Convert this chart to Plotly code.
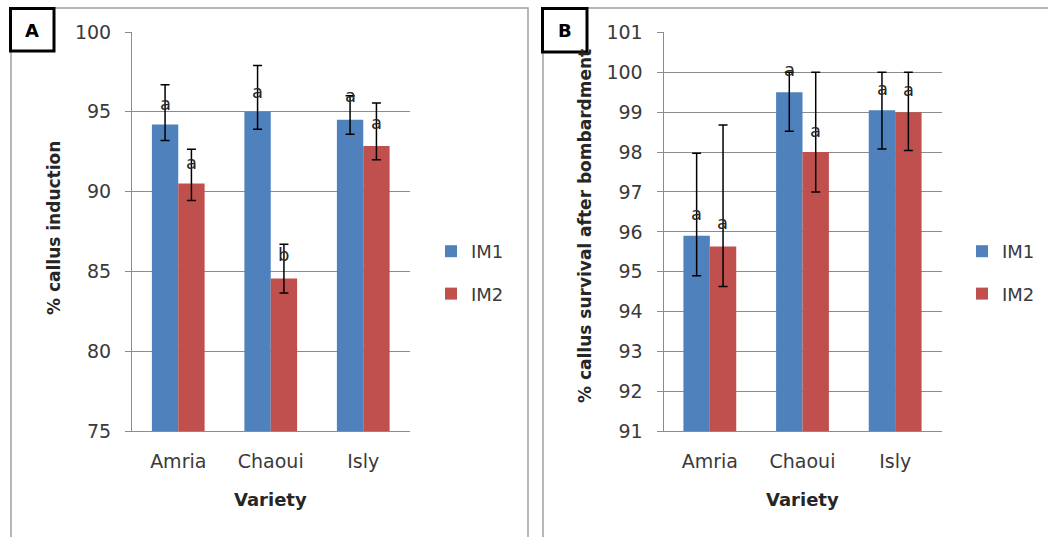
import plotly.graph_objects as go

W, H = 1048, 537

varieties = ["Amria", "Chaoui", "Isly"]
series_names = ["IM1", "IM2"]

# Panel A: % callus induction
a_im1 = [94.2, 95.0, 94.5]
a_im1_plus = [2.5, 2.9, 1.5]
a_im1_minus = [1.0, 1.1, 0.9]
a_im2 = [90.5, 84.55, 92.85]
a_im2_plus = [2.15, 2.15, 2.7]
a_im2_minus = [1.05, 0.9, 0.85]
a_im1_letters = ["a", "a", "a"]
a_im1_letter_y = [95.5, 96.25, 96.0]
a_im2_letters = ["a", "b", "a"]
a_im2_letter_y = [91.8, 86.05, 94.3]

# Panel B: % callus survival after bombardment
b_im1 = [95.9, 99.5, 99.05]
b_im1_plus = [2.07, 0.5, 0.95]
b_im1_minus = [1.0, 0.98, 0.97]
b_im2 = [95.63, 98.0, 99.0]
b_im2_plus = [3.05, 2.0, 1.0]
b_im2_minus = [1.0, 1.0, 0.96]
b_im1_letters = ["a", "a", "a"]
b_im1_letter_y = [96.45, 100.07, 99.6]
b_im2_letters = ["a", "a", "a"]
b_im2_letter_y = [96.23, 98.55, 99.57]

a_yticks = [75, 80, 85, 90, 95, 100]
b_yticks = [91, 92, 93, 94, 95, 96, 97, 98, 99, 100, 101]

BLUE = "#4F81BD"
RED = "#C0504D"
GRID = "#8c8c8c"
FONT = "DejaVu Sans"


def px(x):
    return x / W


def py(y):
    return 1 - y / H


fig = go.Figure()


def add_bar(name, xa, ya, vals, plus, minus, color, legend, group):
    fig.add_trace(go.Bar(
        x=varieties, y=vals, name=name, marker_color=color,
        marker_line_width=0,
        xaxis=xa, yaxis=ya, legend=legend, legendgroup=group,
        error_y=dict(type="data", symmetric=False, array=plus, arrayminus=minus,
                     color="black", thickness=1.5, width=4.5),
    ))


add_bar("IM1", "x", "y", a_im1, a_im1_plus, a_im1_minus, BLUE, "legend", "g1")
add_bar("IM2", "x", "y", a_im2, a_im2_plus, a_im2_minus, RED, "legend", "g2")
add_bar("IM1", "x2", "y2", b_im1, b_im1_plus, b_im1_minus, BLUE, "legend2", "h1")
add_bar("IM2", "x2", "y2", b_im2, b_im2_plus, b_im2_minus, RED, "legend2", "h2")

annotations = []
for xr, yr, letters, ys, shift in [
    ("x", "y", a_im1_letters, a_im1_letter_y, -13),
    ("x", "y", a_im2_letters, a_im2_letter_y, 13),
    ("x2", "y2", b_im1_letters, b_im1_letter_y, -13),
    ("x2", "y2", b_im2_letters, b_im2_letter_y, 13),
]:
    for v, lt, yv in zip(varieties, letters, ys):
        annotations.append(dict(x=v, y=yv, xref=xr, yref=yr, text=lt, showarrow=False,
                                xshift=shift, yanchor="middle", xanchor="center",
                                font=dict(family=FONT, size=18, color="#262626")))

title_font = dict(family=FONT, size=17, color="#262626")
annotations += [
    dict(x=px(54), y=py(228), xref="paper", yref="paper", text="<b>% callus induction</b>",
         textangle=-90, showarrow=False, font=title_font, xanchor="center", yanchor="middle"),
    dict(x=px(585), y=py(226), xref="paper", yref="paper",
         text="<b>% callus survival after bombardment</b>",
         textangle=-90, showarrow=False, font=title_font, xanchor="center", yanchor="middle"),
    dict(x=px(270), y=py(499), xref="paper", yref="paper", text="<b>Variety</b>",
         showarrow=False, font=dict(family=FONT, size=18, color="#262626"),
         xanchor="center", yanchor="middle"),
    dict(x=px(802), y=py(499), xref="paper", yref="paper", text="<b>Variety</b>",
         showarrow=False, font=dict(family=FONT, size=18, color="#262626"),
         xanchor="center", yanchor="middle"),
    dict(x=px(32), y=py(30), xref="paper", yref="paper", text="<b>A</b>",
         showarrow=False, font=dict(family=FONT, size=18, color="black"),
         xanchor="center", yanchor="middle"),
    dict(x=px(564.5), y=py(30), xref="paper", yref="paper", text="<b>B</b>",
         showarrow=False, font=dict(family=FONT, size=18, color="black"),
         xanchor="center", yanchor="middle"),
]

shapes = [
    dict(type="rect", xref="paper", yref="paper", x0=px(11), x1=px(528), y0=py(8), y1=py(560),
         line=dict(color="#a0a0a0", width=1.5), layer="below"),
    dict(type="rect", xref="paper", yref="paper", x0=px(543), x1=px(1070), y0=py(8), y1=py(560),
         line=dict(color="#a0a0a0", width=1.5), layer="below"),
    dict(type="rect", xref="paper", yref="paper", x0=px(10.5), x1=px(54), y0=py(8.5), y1=py(51),
         line=dict(color="black", width=3), fillcolor="white", layer="above"),
    dict(type="rect", xref="paper", yref="paper", x0=px(542.5), x1=px(587), y0=py(8.5), y1=py(52),
         line=dict(color="black", width=3), fillcolor="white", layer="above"),
]

tick_font = dict(family=FONT, size=19, color="#3a3a3a")

xaxis_common = dict(showgrid=False, showline=True, linecolor=GRID, linewidth=1,
                    ticks="", tickfont=tick_font, ticklabelstandoff=13, zeroline=False,
                    fixedrange=True, automargin=False)
yaxis_common = dict(showgrid=True, gridcolor=GRID, gridwidth=1, showline=True,
                    linecolor=GRID, linewidth=1, ticks="outside", ticklen=6,
                    tickcolor=GRID, tickfont=tick_font, ticklabelstandoff=10,
                    zeroline=False, fixedrange=True, automargin=False)

legend_common = dict(font=dict(family=FONT, size=18, color="#3a3a3a"), bgcolor="rgba(0,0,0,0)",
                     traceorder="grouped", tracegroupgap=16, itemwidth=30,
                     xanchor="left", yanchor="top")

fig.update_layout(
    width=W, height=H, margin=dict(l=0, r=0, t=0, b=0, autoexpand=False),
    paper_bgcolor="white", plot_bgcolor="white",
    barmode="group", bargap=0.43, bargroupgap=0,
    font=dict(family=FONT),
    xaxis=dict(domain=[px(132), px(409.5)], anchor="y", **xaxis_common),
    yaxis=dict(domain=[py(431), py(32)], anchor="x", range=[75, 100],
               tickvals=a_yticks, **yaxis_common),
    xaxis2=dict(domain=[px(663.5), px(941.5)], anchor="y2", **xaxis_common),
    yaxis2=dict(domain=[py(431.3), py(32.4)], anchor="x2", range=[91, 101],
                tickvals=b_yticks, **yaxis_common),
    legend=dict(x=px(431), y=py(233), **legend_common),
    legend2=dict(x=px(962), y=py(233), **legend_common),
    annotations=annotations,
    shapes=shapes,
    showlegend=True,
)

fig.write_html("out.html", config={"displayModeBar": False},
               post_script="document.body.style.margin='0';document.body.style.overflow='hidden';")
